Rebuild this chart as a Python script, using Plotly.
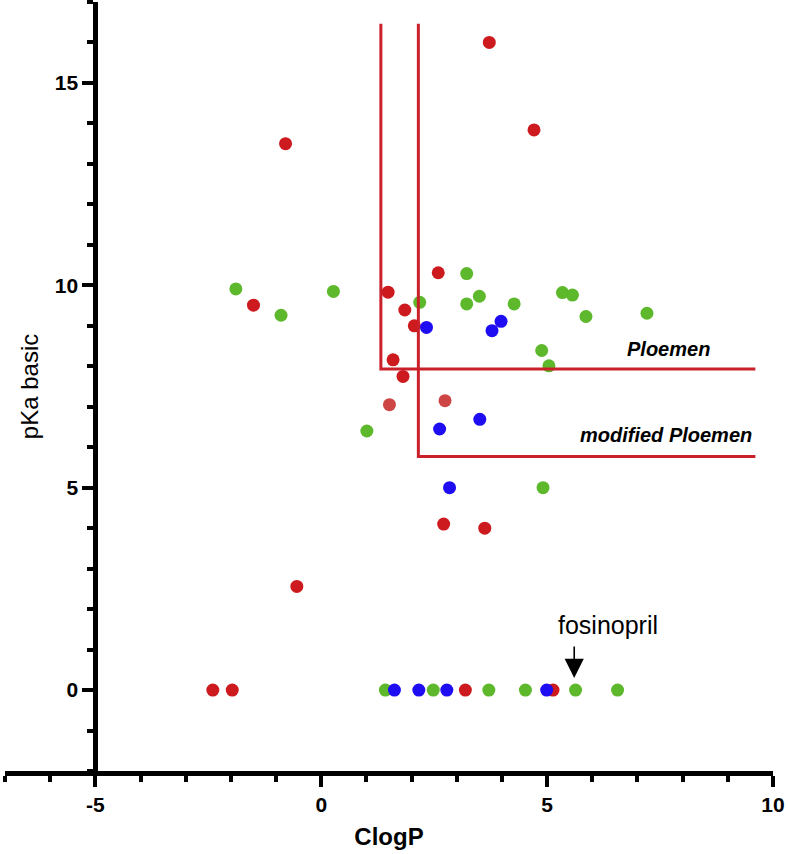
import plotly.graph_objects as go

# ---- data (ClogP, pKa basic) ----
red_x = [-0.79, -1.50, 3.72, 4.71, 2.59, 1.48, 1.85, 2.06, 1.59, 1.81, 2.71, 3.62, -0.54, -2.40, -1.97, 3.19, 5.13]
red_y = [13.50, 9.51, 16.0, 13.84, 10.31, 9.83, 9.39, 9.00, 8.16, 7.75, 4.10, 4.00, 2.56, 0, 0, 0, 0]

lightred_x = [1.51, 2.74]
lightred_y = [7.05, 7.15]

green_x = [-1.89, -0.89, 0.27, 3.22, 2.18, 3.22, 3.50, 4.27, 5.34, 5.56, 5.86, 7.21, 4.88, 5.04, 1.01, 4.91,
           1.42, 2.48, 3.71, 4.52, 5.63, 6.56]
green_y = [9.91, 9.26, 9.85, 10.29, 9.58, 9.54, 9.73, 9.54, 9.82, 9.76, 9.23, 9.31, 8.39, 8.01, 6.40, 5.00,
           0, 0, 0, 0, 0, 0]

blue_x = [2.33, 3.98, 3.78, 2.62, 3.51, 2.84, 1.62, 2.16, 2.78, 4.99]
blue_y = [8.96, 9.11, 8.88, 6.45, 6.69, 5.00, 0, 0, 0, 0]

# tick labels
x_tickvals = [-5, 0, 5, 10]
x_ticktext = ["-5", "0", "5", "10"]
y_tickvals = [0, 5, 10, 15]
y_ticktext = ["0", "5", "10", "15"]

# threshold boxes: (ClogP threshold, pKa threshold)
ploemen = (1.32, 7.93)
modified_ploemen = (2.15, 5.77)
box_top = 16.46
box_right = 9.61

fosinopril = (5.60, 0.0)

x_range = [-7, 10]
y_range = [-2, 17]
y_axis_cross = -5

RED = "#CC1A1E"
LIGHTRED = "#CD4545"
GREEN = "#5DB82B"
BLUE = "#1E0DF2"
LINE = "#C9202A"
FONT = "Liberation Sans"

fig = go.Figure()


def dots(x, y, color):
    fig.add_trace(go.Scatter(x=x, y=y, mode="markers",
                             marker=dict(size=13, color=color, line=dict(width=0)),
                             showlegend=False, hoverinfo="x+y"))


dots(green_x, green_y, GREEN)
dots(red_x, red_y, RED)
dots(lightred_x, lightred_y, LIGHTRED)
dots(blue_x, blue_y, BLUE)

for cx, py in (ploemen, modified_ploemen):
    fig.add_trace(go.Scatter(x=[cx, cx, box_right], y=[box_top, py, py], mode="lines",
                             line=dict(color=LINE, width=3), showlegend=False, hoverinfo="skip"))

fig.add_annotation(x=8.66, y=ploemen[1] + 0.5, text="<b><i>Ploemen</i></b>", showarrow=False,
                   xanchor="right", yanchor="middle", font=dict(family=FONT, size=20, color="black"))
fig.add_annotation(x=9.58, y=modified_ploemen[1] + 0.53, text="<b><i>modified Ploemen</i></b>", showarrow=False,
                   xanchor="right", yanchor="middle", font=dict(family=FONT, size=20, color="black"))

fig.add_annotation(x=fosinopril[0] + 0.74, y=fosinopril[1] + 1.6, text="fosinopril", showarrow=False,
                   xanchor="center", yanchor="middle", font=dict(family=FONT, size=25, color="black"))
fig.add_annotation(x=fosinopril[0], y=fosinopril[1] + 0.3, text="", showarrow=True,
                   ax=0, ay=-33, arrowhead=2, arrowsize=2.4, arrowwidth=1.6, arrowcolor="black")

axis_common = dict(showgrid=False, zeroline=False, showline=True, linecolor="black", linewidth=5,
                   ticks="outside", ticklen=11, tickwidth=3.5, tickcolor="black",
                   tickfont=dict(family=FONT, size=21, color="black", weight="bold"),
                   tickmode="array")
minor_ticks = dict(tickmode="linear", dtick=1, tick0=0, ticks="outside", ticklen=6, tickwidth=3.5,
                   tickcolor="black")

fig.update_layout(
    width=788, height=854,
    margin=dict(l=5, r=15, t=2, b=83),
    plot_bgcolor="white", paper_bgcolor="white",
    xaxis=dict(range=x_range, domain=[0, 1], tickvals=x_tickvals, ticktext=x_ticktext, **axis_common,
               minor=minor_ticks,
               title=dict(text="ClogP", font=dict(family=FONT, size=24, color="black", weight="bold"), standoff=14)),
    yaxis=dict(range=y_range, anchor="free", tickvals=y_tickvals, ticktext=y_ticktext,
               position=(y_axis_cross - x_range[0]) / (x_range[1] - x_range[0]), **axis_common,
               minor=minor_ticks,
               title=dict(text="pKa basic", font=dict(family=FONT, size=24, color="black"), standoff=8)),
)

fig.write_html("out.html", config={"displayModeBar": False},
               post_script="document.body.style.margin='0';")
